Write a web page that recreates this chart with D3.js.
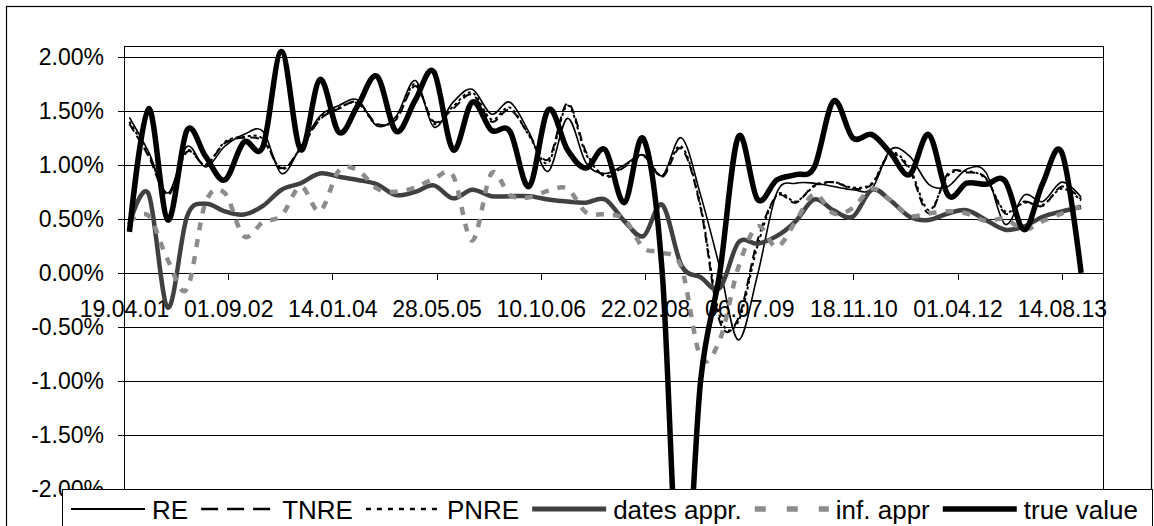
<!DOCTYPE html>
<html><head><meta charset="utf-8">
<script src="https://cdn.jsdelivr.net/npm/d3@7"></script>
<style>
body{margin:0;background:#fff;}
svg{display:block;font-family:"Liberation Sans",Arial,sans-serif;}
</style>
</head><body>
<svg id="chart" width="1154" height="526"></svg>
<script>
// ---------- data ----------
const xTickLabels = ["19.04.01","01.09.02","14.01.04","28.05.05","10.10.06","22.02.08","06.07.09","18.11.10","01.04.12","14.08.13"];
const yTickValues = [-0.02,-0.015,-0.01,-0.005,0,0.005,0.01,0.015,0.02];
const dates = [
 "2001-05-15","2001-08-15","2001-11-15",
 "2002-02-15","2002-05-15","2002-08-15","2002-11-15",
 "2003-02-15","2003-05-15","2003-08-15","2003-11-15",
 "2004-02-15","2004-05-15","2004-08-15","2004-11-15",
 "2005-02-15","2005-05-15","2005-08-15","2005-11-15",
 "2006-02-15","2006-05-15","2006-08-15","2006-11-15",
 "2007-02-15","2007-05-15","2007-08-15","2007-11-15",
 "2008-02-15","2008-05-15","2008-08-15","2008-11-15",
 "2009-02-15","2009-05-15","2009-08-15","2009-11-15",
 "2010-02-15","2010-05-15","2010-08-15","2010-11-15",
 "2011-02-15","2011-05-15","2011-08-15","2011-11-15",
 "2012-02-15","2012-05-15","2012-08-15","2012-11-15",
 "2013-02-15","2013-05-15","2013-08-15","2013-11-15"];
// values in percent
const RE = [1.44,1.12,0.74,1.17,0.98,1.17,1.28,1.31,0.92,1.17,1.45,1.55,1.60,1.36,1.45,1.78,1.35,1.58,1.70,1.47,1.58,1.30,0.94,1.43,1.02,0.92,1.00,1.09,0.90,1.25,0.72,0.05,-0.62,-0.02,0.74,0.83,0.83,0.80,0.77,0.78,1.14,1.08,0.82,0.80,0.96,0.93,0.45,0.72,0.66,0.84,0.70];
const TNRE = [1.38,1.08,0.72,1.12,1.00,1.20,1.25,1.22,0.97,1.15,1.42,1.52,1.58,1.38,1.42,1.73,1.40,1.52,1.65,1.40,1.51,1.28,1.05,1.57,1.12,0.89,0.98,1.08,0.89,1.15,0.60,-0.45,-0.42,0.30,0.71,0.65,0.81,0.84,0.78,0.82,1.10,0.95,0.55,0.92,0.93,0.88,0.55,0.66,0.62,0.80,0.68];
const PNRE = [1.40,1.10,0.73,1.13,1.00,1.21,1.26,1.24,0.96,1.16,1.43,1.53,1.57,1.37,1.43,1.75,1.38,1.54,1.67,1.42,1.53,1.27,1.02,1.55,1.10,0.90,0.99,1.09,0.90,1.17,0.62,-0.40,-0.45,0.25,0.72,0.66,0.80,0.84,0.79,0.83,1.11,0.97,0.58,0.90,0.94,0.87,0.57,0.65,0.63,0.78,0.67];
const datesAppr = [0.45,0.73,-0.32,0.52,0.64,0.57,0.54,0.62,0.77,0.83,0.92,0.89,0.86,0.82,0.72,0.75,0.81,0.69,0.77,0.71,0.71,0.71,0.68,0.66,0.65,0.68,0.48,0.34,0.63,0.07,-0.04,-0.14,0.28,0.27,0.34,0.48,0.68,0.58,0.52,0.77,0.67,0.52,0.49,0.55,0.58,0.49,0.40,0.43,0.52,0.57,0.61];
const infAppr = [0.47,0.53,0.12,-0.15,0.65,0.74,0.34,0.47,0.53,0.80,0.57,0.95,0.95,0.78,0.75,0.79,0.87,0.90,0.30,0.92,0.72,0.70,0.76,0.78,0.56,0.54,0.50,0.23,0.19,0.05,-0.78,-0.62,0.05,0.43,0.24,0.48,0.73,0.55,0.60,0.78,0.67,0.53,0.55,0.57,0.55,0.48,0.50,0.40,0.48,0.55,0.62];
const trueValue = [0.38,1.52,0.49,1.32,1.08,0.86,1.21,1.17,2.05,1.14,1.79,1.30,1.55,1.82,1.31,1.60,1.86,1.14,1.58,1.32,1.31,0.80,1.51,1.14,0.97,1.14,0.65,1.24,0.00,-3.30,-1.00,0.00,1.26,0.68,0.86,0.91,0.98,1.59,1.25,1.28,1.11,0.91,1.28,0.72,0.83,0.82,0.85,0.40,0.83,1.11,0.00];
const seriesNames = ["RE","TNRE","PNRE","dates appr.","inf. appr","true value"];
const seriesValues = [RE,TNRE,PNRE,datesAppr,infAppr,trueValue];

// ---------- styles ----------
const styles = [
  {color:"#000", width:1.6, dash:null,   legendDash:null,   legendWidth:2},
  {color:"#000", width:2,   dash:"9,5",  legendDash:"17,9", legendWidth:2.5},
  {color:"#000", width:2,   dash:"3,3",  legendDash:"5,6",  legendWidth:2.5},
  {color:"#404040", width:4.5, dash:null, legendDash:null,  legendWidth:5},
  {color:"#8c8c8c", width:4.5, dash:"8,9", legendDash:"11,21", legendWidth:5.5},
  {color:"#000", width:5.5, dash:null,   legendDash:null,   legendWidth:5.5}
];

const svg = d3.select("#chart");
const W = 1154, H = 526;
const plot = {left:124, right:1103, top:46, bottom:489};
const parseTick = d3.utcParse("%d.%m.%y");
const parseDate = d3.utcParse("%Y-%m-%d");
const tickDates = xTickLabels.map(parseTick);

const x = d3.scaleUtc()
  .domain([parseTick("19.04.01"), parseDate("2014-02-28")])
  .range([plot.left, plot.right]);
const y = d3.scaleLinear().domain([-0.02, 0.021]).range([plot.bottom, plot.top]);

// outer border
svg.append("rect").attr("x",6.5).attr("y",6.5).attr("width",1145).attr("height",560)
  .attr("fill","#fff").attr("stroke","#000").attr("stroke-width",1.2);

// gridlines
svg.append("g").attr("transform",`translate(${plot.left},0)`)
  .call(d3.axisLeft(y).tickValues(yTickValues).tickSize(-(plot.right-plot.left)).tickFormat(""))
  .call(g=>g.select(".domain").remove())
  .call(g=>g.selectAll("line").attr("stroke","#000").attr("stroke-width",1).attr("shape-rendering","crispEdges"));

// plot border (top & right)
svg.append("path")
  .attr("d",`M${plot.left},${plot.top}H${plot.right}V${plot.bottom}`)
  .attr("fill","none").attr("stroke","#000").attr("stroke-width",1).attr("shape-rendering","crispEdges");

// y axis
const fmt = d3.format(".2%");
svg.append("g").attr("transform",`translate(${plot.left},0)`)
  .call(d3.axisLeft(y).tickValues(yTickValues).tickSize(6).tickSizeOuter(0).tickPadding(14)
    .tickFormat(d=>fmt(d).replace("\u2212","-")))
  .call(g=>g.selectAll("line,path").attr("stroke","#000").attr("shape-rendering","crispEdges"))
  .call(g=>g.selectAll("text").attr("font-size",23).attr("fill","#000")
    .attr("font-family",'"Liberation Sans",Arial,sans-serif'));

// x axis at zero
svg.append("g").attr("transform",`translate(0,${y(0)})`)
  .call(d3.axisBottom(x).tickValues(tickDates).tickSize(7).tickSizeOuter(0).tickPadding(21)
    .tickFormat((d,i)=>xTickLabels[i]))
  .call(g=>g.selectAll("line,path").attr("stroke","#000").attr("shape-rendering","crispEdges"))
  .call(g=>g.selectAll("text").attr("font-size",23).attr("fill","#000")
    .attr("font-family",'"Liberation Sans",Arial,sans-serif'));

// series
svg.append("clipPath").attr("id","clip").append("rect")
  .attr("x",plot.left).attr("y",plot.top).attr("width",plot.right-plot.left).attr("height",plot.bottom-plot.top);
const line = d3.line()
  .x((d,i)=>x(parseDate(dates[i])))
  .y(d=>y(d/100))
  .curve(d3.curveCatmullRom.alpha(0));
const gSeries = svg.append("g").attr("clip-path","url(#clip)");
seriesValues.forEach((vals,k)=>{
  const s = styles[k];
  gSeries.append("path").datum(vals)
    .attr("d",line)
    .attr("fill","none")
    .attr("stroke",s.color)
    .attr("stroke-width",s.width)
    .attr("stroke-dasharray",s.dash)
    .attr("stroke-linejoin","round");
});

// legend
const lg = svg.append("g");
lg.append("rect").attr("x",62.5).attr("y",489.5).attr("width",1090).attr("height",60)
  .attr("fill","#fff").attr("stroke","#000").attr("stroke-width",1);
let lx = 71;
seriesNames.forEach((name,k)=>{
  const s = styles[k];
  lg.append("line").attr("x1",lx).attr("x2",lx+74).attr("y1",509).attr("y2",509)
    .attr("stroke",s.color).attr("stroke-width",s.legendWidth).attr("stroke-dasharray",s.legendDash);
  const t = lg.append("text").attr("x",lx+81).attr("y",519).attr("font-size",26).attr("fill","#000").text(name);
  lx = lx + 81 + t.node().getComputedTextLength() + 13;
});
</script>
</body></html>
